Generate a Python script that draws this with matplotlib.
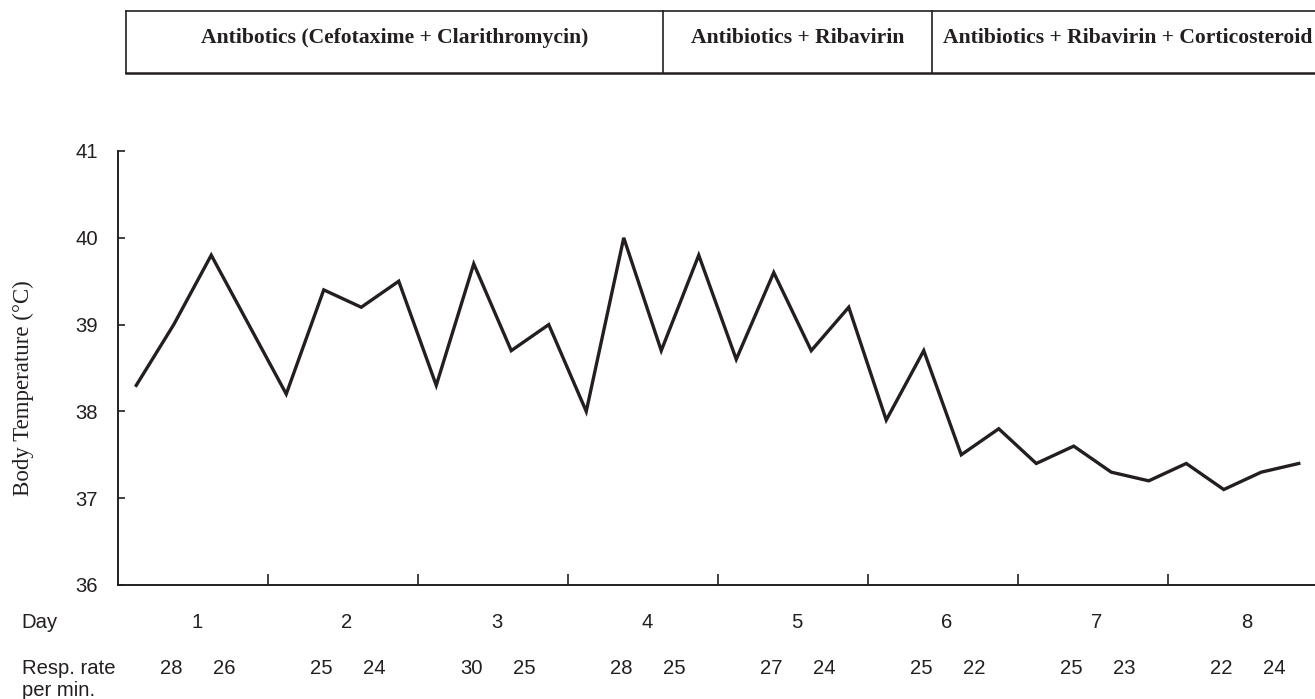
import matplotlib
matplotlib.use("Agg")
import matplotlib.pyplot as plt
import matplotlib.transforms as mtransforms
from matplotlib.lines import Line2D
import numpy as np

# ---------------- data ----------------
temperatures = [38.3, 39.0, 39.8, 39.0, 38.2, 39.4, 39.2, 39.5,
                38.3, 39.7, 38.7, 39.0, 38.0, 40.0, 38.7, 39.8,
                38.6, 39.6, 38.7, 39.2, 37.9, 38.7, 37.5, 37.8,
                37.4, 37.6, 37.3, 37.2, 37.4, 37.1, 37.3, 37.4]
readings_per_day = 4
days = [1, 2, 3, 4, 5, 6, 7, 8]
resp_first = [28, 25, 30, 28, 27, 25, 25, 22]
resp_second = [26, 24, 25, 25, 24, 22, 23, 24]
y_ticks = [36, 37, 38, 39, 40, 41]
treatments = ["Antibotics (Cefotaxime + Clarithromycin)",
              "Antibiotics + Ribavirin",
              "Antibiotics + Ribavirin + Corticosteroid"]

# ---------------- layout ----------------
W, H = 1315, 699
ink = "#231f20"
SANS = ["Liberation Sans", "DejaVu Sans"]
SERIF = ["Liberation Serif", "DejaVu Serif"]

fig = plt.figure(figsize=(W / 100, H / 100), dpi=100)


def fx(px):
    return px / W


def fy(py):
    return 1 - py / H


x0_px, ytop_px, ybot_px, px_per_day = 117.5, 151, 585, 150.0
ax = fig.add_axes([fx(x0_px), fy(ybot_px), (W - x0_px) / W, (ybot_px - ytop_px) / H])

xs = (np.arange(len(temperatures)) + 0.5) / readings_per_day
ax.plot(xs, temperatures, color=ink, lw=2.4, solid_joinstyle="miter", clip_on=False)

ax.set_xlim(0, (W - x0_px) / px_per_day)
ax.set_ylim(y_ticks[0], y_ticks[-1])
ax.set_yticks(y_ticks)
ax.set_yticklabels([str(t) for t in y_ticks], family=SANS, fontsize=14.6, color=ink)
ax.set_xticks(days[:-1])
ax.set_xticklabels([])
for s in ("top", "right"):
    ax.spines[s].set_visible(False)
for s in ("left", "bottom"):
    ax.spines[s].set_linewidth(1.4)
    ax.spines[s].set_color(ink)
ax.tick_params(axis="y", direction="in", length=5, width=1.2, pad=14, color=ink)
ax.tick_params(axis="x", direction="in", length=8, width=1.2, color=ink)

# y label
fig.text(fx(23), fy(388), "Body Temperature (°C)", rotation=90, ha="center", va="center",
         family=SERIF, fontsize=16.5, color=ink)

# rows under the axis
trans = mtransforms.blended_transform_factory(ax.transData, fig.transFigure)
fig.text(fx(21.5), fy(623), "Day", ha="left", va="center", family=SANS, fontsize=14.6, color=ink)
fig.text(fx(21.5), fy(668), "Resp. rate", ha="left", va="center", family=SANS, fontsize=14.6, color=ink)
fig.text(fx(21.5), fy(691), "per min.", ha="left", va="center", family=SANS, fontsize=14.6, color=ink)
for d, r1, r2 in zip(days, resp_first, resp_second):
    ax.text(d - 1 + 0.53, fy(623), str(d), transform=trans, ha="center", va="center",
            family=SANS, fontsize=14.6, color=ink)
    ax.text(d - 1 + 0.36, fy(668), str(r1), transform=trans, ha="center", va="center",
            family=SANS, fontsize=14.6, color=ink)
    ax.text(d - 1 + 0.71, fy(668), str(r2), transform=trans, ha="center", va="center",
            family=SANS, fontsize=14.6, color=ink)

# treatment table at top
tbl_top, tbl_bot = 10.7, 72.7
tbl_left, div1, div2, tbl_right = 125.7, 662.7, 931.7, 1330
lw = 1.2
fig.add_artist(Line2D([fx(tbl_left), fx(tbl_right)], [fy(tbl_top)] * 2, color=ink, lw=lw))
fig.add_artist(Line2D([fx(tbl_left), fx(tbl_right)], [fy(tbl_bot)] * 2, color=ink, lw=1.8))
for xv in (tbl_left, div1, div2):
    fig.add_artist(Line2D([fx(xv)] * 2, [fy(tbl_top), fy(tbl_bot)], color=ink, lw=lw))
centers = [(tbl_left + div1) / 2, (div1 + div2) / 2, 1127.5]
for c, t in zip(centers, treatments):
    fig.text(fx(c), fy(43), t, ha="center", va="baseline", family=SERIF, weight="bold",
             fontsize=15.6, color=ink)

fig.savefig("out.png", dpi=100)
